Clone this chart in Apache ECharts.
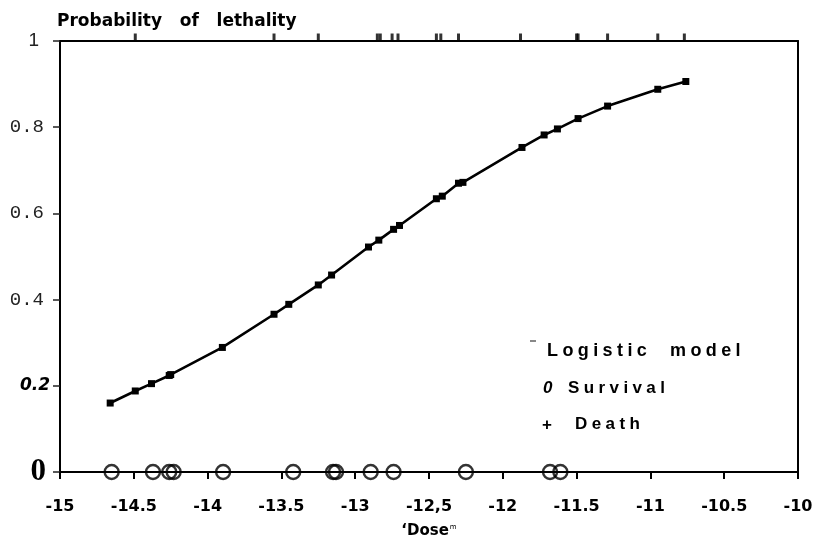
<!DOCTYPE html>
<html>
<head>
<meta charset="utf-8">
<script src="https://cdn.jsdelivr.net/npm/echarts@6/dist/echarts.min.js"></script>
<style>
  html, body { margin: 0; padding: 0; background: #fff; }
  #wrap { position: relative; width: 818px; height: 539px; }
  #chart, #key { position: absolute; left: 0; top: 0; width: 818px; height: 539px; }
  #key { pointer-events: none; }
</style>
</head>
<body>
<div id="wrap"><div id="chart"></div><div id="key"></div></div>
<script>
// Fitted logistic model, evaluated at every tested dose
const modelDose = [-14.66, -14.49, -14.38, -14.26, -14.25, -13.90, -13.55, -13.45, -13.25, -13.16,
                   -12.91, -12.84, -12.74, -12.70, -12.45, -12.41, -12.30, -12.27, -11.87, -11.72,
                   -11.63, -11.49, -11.29, -10.95, -10.76];
const modelProb = [0.160, 0.188, 0.205, 0.224, 0.226, 0.289, 0.366, 0.389, 0.434, 0.457,
                   0.522, 0.538, 0.563, 0.572, 0.634, 0.640, 0.670, 0.672, 0.753, 0.782,
                   0.796, 0.820, 0.849, 0.888, 0.906];

// Observed outcomes: survivors sit on 0, deaths on 1
const survivalDose = [-14.65, -14.37, -14.26, -14.23, -13.895, -13.42, -13.15, -13.13,
                      -12.895, -12.74, -12.25, -11.68, -11.61];
const deathDose = [-14.49, -13.55, -13.25, -12.85, -12.83, -12.75, -12.71, -12.45, -12.42,
                   -12.30, -11.88, -11.50, -11.49, -11.29, -10.95, -10.77];

// Axis ticks and their printed labels
const xTicks = [-15, -14.5, -14, -13.5, -13, -12.5, -12, -11.5, -11, -10.5, -10];
const xTickLabels = ['-15', '-14.5', '-14', '-13.5', '-13', '-12,5', '-12', '-11.5', '-11', '-10.5', '-10'];
const yTicks = [0, 0.2, 0.4, 0.6, 0.8, 1];
const yTickLabels = ['0', '0.2', '0.4', '0.6', '0.8', '1'];

const titleText = 'Probability   of   lethality';
const xName = '‘Dose';
const keyModel = 'Logistic  model';
const keySurvival = 'Survival';
const keyDeath = 'Death';

function labelFor(ticks, labels, v) {
  const i = ticks.findIndex(t => Math.abs(t - v) < 1e-6);
  return i < 0 ? '' : labels[i];
}

// each y label is printed in its own typeface
const yRichKey = { '0': 'zero', '0.2': 'bi', '0.4': 'mono', '0.6': 'mono', '0.8': 'mono', '1': 'one' };

const chart = echarts.init(document.getElementById('chart'), null, { renderer: 'canvas' });

const option = {
  animation: false,
  backgroundColor: '#fff',
  title: {
    text: titleText,
    left: 52,
    top: 8,
    textStyle: { fontFamily: 'DejaVu Sans', fontWeight: 'bold', fontSize: 17, color: '#000' }
  },
  grid: { left: 60, right: 20, top: 41, bottom: 67, containLabel: false, outerBoundsMode: 'none' },
  xAxis: [
    {
      type: 'value', min: -15, max: -10, interval: 0.5, position: 'bottom',
      axisLine: { show: true, onZero: false, lineStyle: { color: '#000', width: 2 } },
      axisTick: { show: true, inside: false, length: 7, lineStyle: { color: '#000', width: 2 } },
      splitLine: { show: false },
      axisLabel: {
        margin: 27, color: '#000', fontFamily: 'DejaVu Sans', fontWeight: 'bold', fontSize: 16,
        formatter: v => labelFor(xTicks, xTickLabels, v)
      },
      name: '{d|' + xName + '}{s|m}',
      nameLocation: 'middle',
      nameGap: 52,
      nameTextStyle: {
        rich: {
          d: { fontFamily: 'DejaVu Sans', fontWeight: 'bold', fontSize: 15, color: '#000' },
          s: { fontFamily: 'DejaVu Sans', fontSize: 7, color: '#000', verticalAlign: 'top', padding: [0, 0, 6, 1] }
        }
      }
    },
    {
      type: 'value', min: -15, max: -10, position: 'top',
      axisLine: { show: true, onZero: false, lineStyle: { color: '#000', width: 2 } },
      axisTick: { show: false }, axisLabel: { show: false }, splitLine: { show: false }
    }
  ],
  yAxis: [
    {
      type: 'value', min: 0, max: 1, interval: 0.2, position: 'left',
      axisLine: { show: true, onZero: false, lineStyle: { color: '#000', width: 2 } },
      axisTick: { show: true, inside: false, length: 7, lineStyle: { color: '#222', width: 1.5 } },
      splitLine: { show: false },
      axisLabel: {
        margin: 8,
        formatter: v => {
          const t = labelFor(yTicks, yTickLabels, v);
          return '{' + (yRichKey[t] || 'mono') + '|' + t + '}';
        },
        rich: {
          zero: { fontFamily: 'Liberation Serif', fontWeight: 'bold', fontSize: 31, color: '#000', padding: [0, 6, 0, 0] },
          bi: { fontFamily: 'DejaVu Sans', fontWeight: 'bold', fontStyle: 'italic', fontSize: 17, color: '#000', padding: [0, 2, 0, 0] },
          mono: { fontFamily: 'Liberation Mono', fontSize: 19, color: '#222', padding: [0, 8, 0, 0] },
          one: { fontFamily: 'Liberation Sans', fontSize: 19, color: '#222', padding: [0, 13, 0, 0] }
        }
      }
    },
    {
      type: 'value', min: 0, max: 1, position: 'right',
      axisLine: { show: true, onZero: false, lineStyle: { color: '#000', width: 2 } },
      axisTick: { show: false }, axisLabel: { show: false }, splitLine: { show: false }
    }
  ],
  series: [
    {
      name: 'Logistic model',
      type: 'line',
      data: modelDose.map((d, i) => [d, modelProb[i]]),
      symbol: 'rect',
      symbolSize: 7,
      showSymbol: true,
      lineStyle: { color: '#000', width: 2.6 },
      itemStyle: { color: '#000' },
      z: 3
    },
    {
      name: 'Survival',
      type: 'scatter',
      data: survivalDose.map(d => [d, 0]),
      symbol: 'circle',
      symbolSize: 14,
      clip: false,
      itemStyle: { color: 'rgba(0,0,0,0)', borderColor: '#000', borderWidth: 2.4 },
      z: 4
    },
    {
      name: 'Death',
      type: 'scatter',
      data: deathDose.map(d => [d, 1]),
      symbol: 'rect',
      symbolSize: [3, 7],
      symbolOffset: [0, -4],
      clip: false,
      itemStyle: { color: '#000' },
      z: 4
    }
  ]
};
chart.setOption(option);

// Key drawn on its own layer so its letters can be spaced out
const key = echarts.init(document.getElementById('key'), null, { renderer: 'canvas' });
const keyFont = { fontFamily: 'Liberation Sans', fontWeight: 'bold', fill: '#000' };
const keyOption = {
  animation: false,
  graphic: [
    { type: 'line', shape: { x1: 530, y1: 341, x2: 536, y2: 341 }, style: { stroke: '#888', lineWidth: 2 } },
    { type: 'text', x: 547, y: 351, style: Object.assign({ text: keyModel, fontSize: 18, verticalAlign: 'middle' }, keyFont) },
    { type: 'text', x: 543, y: 388, style: Object.assign({ text: '0', fontSize: 17, fontStyle: 'italic', verticalAlign: 'middle' }, keyFont) },
    { type: 'text', x: 568, y: 388, style: Object.assign({ text: keySurvival, fontSize: 17, verticalAlign: 'middle' }, keyFont) },
    { type: 'text', x: 542, y: 425, style: Object.assign({ text: '+', fontSize: 17, verticalAlign: 'middle' }, keyFont) },
    { type: 'text', x: 575, y: 424, style: Object.assign({ text: keyDeath, fontSize: 17, verticalAlign: 'middle' }, keyFont) }
  ]
};
key.setOption(keyOption);
document.querySelectorAll('#key canvas').forEach(c => {
  const ctx = c.getContext('2d');
  if ('letterSpacing' in ctx) ctx.letterSpacing = '4.4px';
});
key.setOption(keyOption, true);
</script>
</body>
</html>
